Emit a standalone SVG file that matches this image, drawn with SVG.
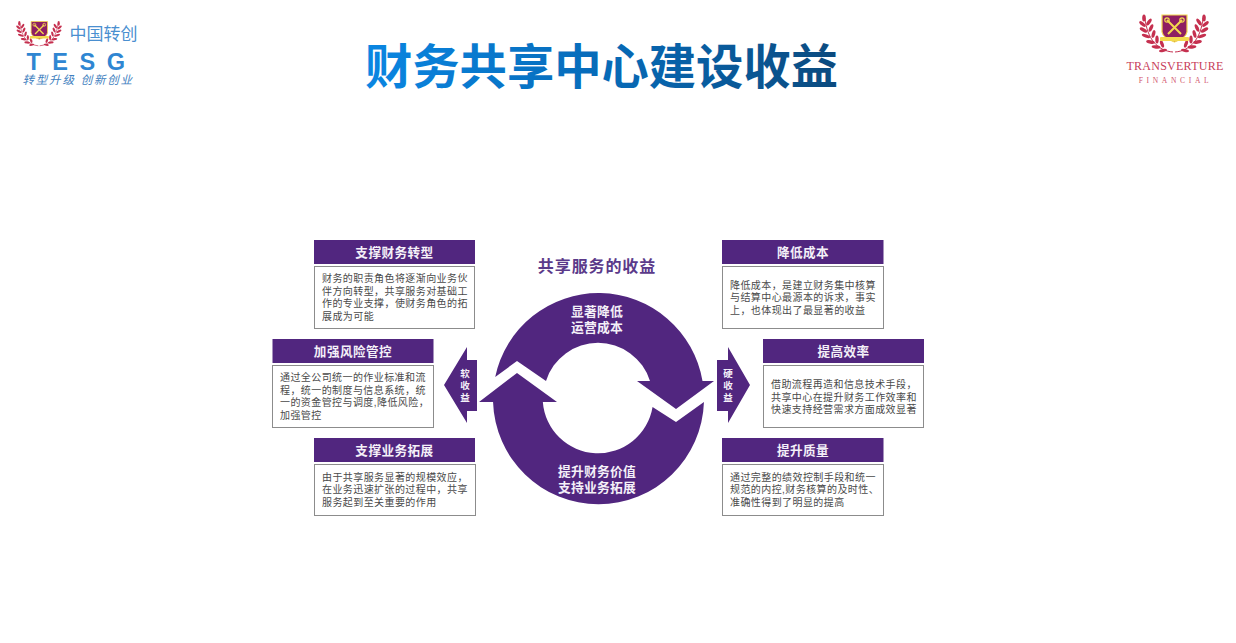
<svg xmlns="http://www.w3.org/2000/svg" width="1236" height="643" viewBox="0 0 1236 643">
<style>
text{font-family:"Liberation Sans","Noto Sans CJK SC",sans-serif}
.head{fill:#51267f}
.box{fill:#fff;stroke:#8c8c8c;stroke-width:1}
.ht{fill:#f4f0f8;font-size:12.600px;font-weight:700;text-anchor:middle;letter-spacing:.45px}
.bt{fill:#4a4a4a;font-size:10px;letter-spacing:.42px}
.flow{fill:#51267f}
.ft{fill:#f4f0f8;font-size:12.800px;font-weight:700;text-anchor:middle;letter-spacing:.2px}
.vt{fill:#f4f0f8;font-size:9.500px;font-weight:700;text-anchor:middle}
.leaf{fill:#c5304f}
</style>
<defs>
<linearGradient id="tg" gradientUnits="userSpaceOnUse" x1="365" y1="0" x2="838" y2="0">
<stop offset="0" stop-color="#0a86e2"/><stop offset=".55" stop-color="#0768b4"/><stop offset="1" stop-color="#0b4a7e"/>
</linearGradient>
<g id="branch">
<path d="M31 37C16 36 5 24 3 3" fill="none" stroke="#c5304f" stroke-width="1"/>
<g class="leaf">
<ellipse cx="2" cy="3" rx="1.800" ry="3.600"/>
<ellipse cx="0.500" cy="9" rx="1.700" ry="4" transform="rotate(-50 .5 9)"/><ellipse cx="7" cy="7" rx="1.700" ry="4" transform="rotate(35 7 7)"/>
<ellipse cx="1.500" cy="15" rx="1.700" ry="4.200" transform="rotate(-60 1.5 15)"/><ellipse cx="9" cy="13" rx="1.700" ry="4" transform="rotate(25 9 13)"/>
<ellipse cx="4" cy="21" rx="1.700" ry="4.400" transform="rotate(-70 4 21)"/><ellipse cx="11.500" cy="19" rx="1.700" ry="4" transform="rotate(15 11.500 19)"/>
<ellipse cx="8.500" cy="27" rx="1.700" ry="4.400" transform="rotate(-80 8.500 27)"/><ellipse cx="15" cy="24.500" rx="1.700" ry="4" transform="rotate(0 15 24.500)"/>
<ellipse cx="14" cy="32" rx="1.700" ry="4.400" transform="rotate(-85 14 32)"/><ellipse cx="20" cy="29" rx="1.700" ry="3.800" transform="rotate(-20 20 29)"/>
<ellipse cx="21" cy="35.500" rx="1.500" ry="4" transform="rotate(-100 21 35.500)"/>
</g>
</g>
<g id="crest">
<use href="#branch"/>
<use href="#branch" transform="translate(64 0) scale(-1 1)"/>
<path d="M20 0H45V17Q44 23 32.500 27Q21 23 20 17Z" fill="#8e1e62" stroke="#f3d94e" stroke-width="1.200"/>
<path d="M25 5L39 19M40 5L26 19" stroke="#f3d94e" stroke-width="2" fill="none"/>
<circle cx="25" cy="5" r="2.200" fill="none" stroke="#f3d94e" stroke-width="1.200"/>
<circle cx="40" cy="5" r="2.200" fill="none" stroke="#f3d94e" stroke-width="1.200"/>
<rect x="18" y="22" width="29" height="4" rx="1" fill="#f3d94e"/>
</g>
</defs>

<g id="logo-tesg">
<use href="#crest" transform="translate(18 21.500) scale(.656)"/>
<text x="69.500" y="40" font-size="17" fill="#4a8fd0">中国转创</text>
<text x="26.500" y="69.500" font-size="23.500" font-weight="700" fill="#2f86d2" letter-spacing="11.500">TESG</text>
<text x="22.500" y="83.500" font-size="11.500" fill="#3f7fc0" font-style="italic" letter-spacing="1.800">转型升级 创新创业</text>
</g>
<g id="logo-transverture">
<use href="#crest" transform="translate(1142 15)"/>
<text x="1175" y="69.500" font-size="12" fill="#c8405a" text-anchor="middle" style="font-family:'Liberation Serif',serif" letter-spacing=".25">TRANSVERTURE</text>
<text x="1175.500" y="83" font-size="7.500" fill="#d2566c" text-anchor="middle" style="font-family:'Liberation Serif',serif" letter-spacing="3.700">FINANCIAL</text>
</g>
<text id="title" x="365" y="84" font-size="47.300" font-weight="700" fill="url(#tg)">财务共享中心建设收益</text>

<g id="cycle-title"><text x="597" y="272" font-size="16" font-weight="700" fill="#5b3a8a" text-anchor="middle" letter-spacing=".9">共享服务的收益</text></g>

<g id="connectors">
<path id="cycle-top" class="flow" d="M495.200 377A105.500 105.500 0 0 1 702.500 381H714L676 409L637 381H650A54.500 54.500 0 0 0 546 381L517 361Z"/>
<path id="cycle-bottom" class="flow" d="M479 402L517 373L557 402H542.850A55.300 55.300 0 0 0 652.560 407L676 422L703.950 402A105.500 105.500 0 0 1 493.050 402Z"/>
<path id="arrow-soft" class="flow" d="M477 360V411H467V423L444 385L467 347V360Z"/>
<path id="arrow-hard" class="flow" d="M717 360H728V347L750 385L728 423V411H717Z"/>
</g>
<g id="cycle-labels">
<text class="ft" x="597" y="316">显著降低</text>
<text class="ft" x="597" y="332">运营成本</text>
<text class="ft" x="597" y="476">提升财务价值</text>
<text class="ft" x="597" y="492">支持业务拓展</text>
<text class="vt" x="465" y="377">软</text><text class="vt" x="465" y="389">收</text><text class="vt" x="465" y="401">益</text>
<text class="vt" x="728" y="377">硬</text><text class="vt" x="728" y="389">收</text><text class="vt" x="728" y="401">益</text>
</g>

<g id="node-transform">
<rect class="head" x="314" y="240" width="161" height="24"/>
<text class="ht" x="394.500" y="257">支撑财务转型</text>
<rect class="box" x="314.500" y="266.500" width="160" height="62"/>
<text class="bt" x="322" y="282">财务的职责角色将逐渐向业务伙</text>
<text class="bt" x="322" y="295">伴方向转型，共享服务对基础工</text>
<text class="bt" x="322" y="307">作的专业支撑，使财务角色的拓</text>
<text class="bt" x="322" y="320">展成为可能</text>
</g>
<g id="node-risk">
<rect class="head" x="272.500" y="339" width="161" height="24"/>
<text class="ht" x="353" y="356">加强风险管控</text>
<rect class="box" x="272.500" y="365.500" width="161" height="62"/>
<text class="bt" x="280" y="381">通过全公司统一的作业标准和流</text>
<text class="bt" x="280" y="394">程，统一的制度与信息系统，统</text>
<text class="bt" x="280" y="406">一的资金管控与调度,降低风险，</text>
<text class="bt" x="280" y="419">加强管控</text>
</g>
<g id="node-expand">
<rect class="head" x="314" y="438" width="161" height="24"/>
<text class="ht" x="394.500" y="455">支撑业务拓展</text>
<rect class="box" x="314.500" y="464.500" width="161" height="51"/>
<text class="bt" x="322" y="481">由于共享服务显著的规模效应，</text>
<text class="bt" x="322" y="493">在业务迅速扩张的过程中，共享</text>
<text class="bt" x="322" y="506">服务起到至关重要的作用</text>
</g>
<g id="node-cost">
<rect class="head" x="722" y="240" width="161.500" height="24"/>
<text class="ht" x="803" y="257">降低成本</text>
<rect class="box" x="722.500" y="266.500" width="161" height="62"/>
<text class="bt" x="730" y="289">降低成本，是建立财务集中核算</text>
<text class="bt" x="730" y="301">与结算中心最源本的诉求，事实</text>
<text class="bt" x="730" y="314">上，也体现出了最显著的收益</text>
</g>
<g id="node-efficiency">
<rect class="head" x="763" y="339" width="161" height="24"/>
<text class="ht" x="843.500" y="356">提高效率</text>
<rect class="box" x="763.500" y="365.500" width="160" height="62"/>
<text class="bt" x="771" y="388">借助流程再造和信息技术手段，</text>
<text class="bt" x="771" y="401">共享中心在提升财务工作效率和</text>
<text class="bt" x="771" y="413">快速支持经营需求方面成效显著</text>
</g>
<g id="node-quality">
<rect class="head" x="722" y="438" width="161.500" height="24"/>
<text class="ht" x="803" y="455">提升质量</text>
<rect class="box" x="722.500" y="464.500" width="161" height="51"/>
<text class="bt" x="730" y="481">通过完整的绩效控制手段和统一</text>
<text class="bt" x="730" y="493">规范的内控,财务核算的及时性、</text>
<text class="bt" x="730" y="506">准确性得到了明显的提高</text>
</g>
</svg>
